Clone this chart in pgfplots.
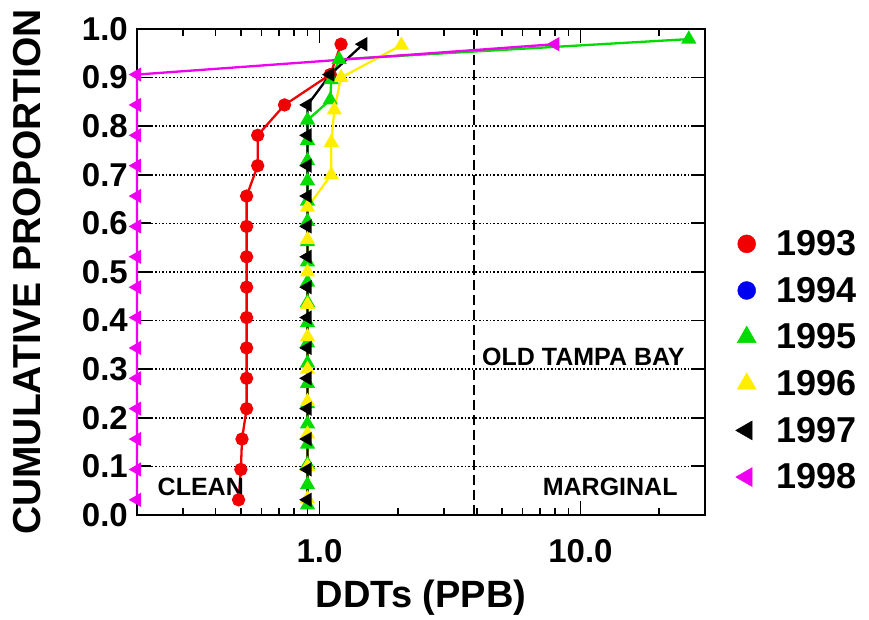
\documentclass[border=0pt]{standalone}
\usepackage{fontspec}
\setmainfont{Liberation Sans}
\usepackage{pgfplots}
\pgfplotsset{compat=1.18}
\definecolor{cgreen}{RGB}{0,220,0}
\definecolor{cyellow}{RGB}{255,238,0}
\definecolor{cmag}{RGB}{240,0,240}
\definecolor{cred}{RGB}{240,0,0}
\definecolor{cblue}{RGB}{0,0,240}
\begin{document}
\begin{tikzpicture}
\useasboundingbox (-137pt,-105pt) rectangle (732pt,515pt);
\begin{semilogxaxis}[
  at={(0pt,0pt)}, anchor=south west,
  scale only axis, width=568pt, height=486pt,
  xmin=0.2, xmax=30, ymin=0, ymax=1,
  clip=false,
  xtick={1,10}, xticklabels={1.0,10.0},
  minor xtick={0.3,0.4,0.5,0.6,0.7,0.8,0.9,2,3,4,5,6,7,8,9,20},
  ytick={0,0.1,0.2,0.3,0.4,0.5,0.6,0.7,0.8,0.9,1},
  yticklabel={\pgfmathprintnumber[fixed,fixed zerofill,precision=1]{\tick}},
  /pgf/number format/assume math mode=true,
  tick align=inside, tick pos=both,
  xticklabel pos=lower, yticklabel pos=left,
  major tick length=14pt, minor tick length=7pt,
  tick style={black, line width=1.8pt},
  axis line style={black, line width=2.2pt},
  ymajorgrids,
  major grid style={black, line width=1.6pt, dash pattern=on 1.6pt off 2pt},
  ticklabel style={font=\bfseries\fontsize{33}{33}\selectfont},
  xticklabel style={anchor=center, yshift=-36pt},
  yticklabel style={anchor=east, inner sep=0pt, xshift=-9pt},
  xlabel={DDTs (PPB)},
  xlabel style={font=\bfseries\fontsize{38}{38}\selectfont, at={(axis description cs:0.5,-0.171)}, anchor=center},
  ylabel={CUMULATIVE PROPORTION},
  ylabel style={font=\bfseries\fontsize{39}{39}\selectfont, at={(axis description cs:-0.1937,0.5)}, anchor=center},
  legend style={at={(axis description cs:1.0537,0.318)}, anchor=west, draw=none, fill=none,
    inner sep=0pt, font=\bfseries\fontsize{36}{36}\selectfont, row sep=16pt, column sep=18pt,
    nodes={inner sep=2pt}},
  legend cell align=left,
]
\addplot[black, line width=2pt, dash pattern=on 10pt off 5pt, forget plot] coordinates {(3.9,0) (3.9,1)};
% 1993
\addplot[cred, line width=2.3pt, mark=*, mark size=5.5pt, mark options={fill=cred, draw=cred}, forget plot] coordinates {
(0.49,0.03125) (0.50,0.09375) (0.505,0.15625) (0.526,0.21875) (0.526,0.28125) (0.526,0.34375)
(0.526,0.40625) (0.526,0.46875) (0.526,0.53125) (0.526,0.59375) (0.526,0.65625) (0.58,0.71875)
(0.58,0.78125) (0.735,0.84375) (1.10,0.90625) (1.21,0.96875)};
% 1995
\addplot[cgreen, line width=2.3pt, mark=triangle*, mark size=6.5pt, mark options={fill=cgreen, draw=cgreen}, forget plot] coordinates {
(0.9,0.020833) (0.9,0.0625) (0.9,0.104167) (0.9,0.145833) (0.9,0.1875) (0.9,0.229167)
(0.9,0.270833) (0.9,0.3125) (0.9,0.354167) (0.9,0.395833) (0.9,0.4375) (0.9,0.479167)
(0.9,0.520833) (0.9,0.5625) (0.9,0.604167) (0.9,0.645833) (0.9,0.6875) (0.9,0.729167)
(0.9,0.770833) (0.9,0.8125) (1.10,0.854167) (1.11,0.895833) (1.19,0.9375) (26,0.979167)};
% 1996
\addplot[cyellow, line width=2.3pt, mark=triangle*, mark size=6.5pt, mark options={fill=cyellow, draw=cyellow}, forget plot] coordinates {
(0.9,0.03333) (0.9,0.1) (0.9,0.16667) (0.9,0.23333) (0.9,0.3) (0.9,0.36667)
(0.9,0.43333) (0.9,0.5) (0.9,0.56667) (0.9,0.63333) (1.11,0.7) (1.11,0.76667)
(1.14,0.83333) (1.21,0.9) (2.06,0.96667)};
% 1997
\addplot[black, line width=2.3pt, mark=triangle*, mark size=6pt, mark options={fill=black, draw=black, rotate=90}, forget plot] coordinates {
(0.9,0.03125) (0.9,0.09375) (0.9,0.15625) (0.9,0.21875) (0.9,0.28125) (0.9,0.34375)
(0.9,0.40625) (0.9,0.46875) (0.9,0.53125) (0.9,0.59375) (0.9,0.65625) (0.9,0.71875)
(0.9,0.78125) (0.9,0.84375) (1.10,0.90625) (1.47,0.96875)};
% 1998
\addplot[cmag, line width=2.3pt, mark=triangle*, mark size=6pt, mark options={fill=cmag, draw=cmag, rotate=90}, forget plot] coordinates {
(0.2,0.03125) (0.2,0.09375) (0.2,0.15625) (0.2,0.21875) (0.2,0.28125) (0.2,0.34375)
(0.2,0.40625) (0.2,0.46875) (0.2,0.53125) (0.2,0.59375) (0.2,0.65625) (0.2,0.71875)
(0.2,0.78125) (0.2,0.84375) (0.2,0.90625) (8.0,0.96875)};
\addlegendimage{only marks, mark=*, mark size=9pt, mark options={fill=cred, draw=cred}}
\addlegendentry{1993}
\addlegendimage{only marks, mark=*, mark size=9pt, mark options={fill=cblue, draw=cblue}}
\addlegendentry{1994}
\addlegendimage{only marks, mark=triangle*, mark size=11pt, mark options={fill=cgreen, draw=cgreen}}
\addlegendentry{1995}
\addlegendimage{only marks, mark=triangle*, mark size=11pt, mark options={fill=cyellow, draw=cyellow}}
\addlegendentry{1996}
\addlegendimage{only marks, mark=triangle*, mark size=11pt, mark options={fill=black, draw=black, rotate=90}}
\addlegendentry{1997}
\addlegendimage{only marks, mark=triangle*, mark size=11pt, mark options={fill=cmag, draw=cmag, rotate=90}}
\addlegendentry{1998}
\node[font=\bfseries\fontsize{25}{25}\selectfont] at (axis cs:0.351,0.057) {CLEAN};
\node[font=\bfseries\fontsize{25}{25}\selectfont] at (axis cs:13.0,0.057) {MARGINAL};
\node[font=\bfseries\fontsize{25}{25}\selectfont] at (axis cs:10.26,0.326) {OLD TAMPA BAY};
\end{semilogxaxis}
\end{tikzpicture}
\end{document}
